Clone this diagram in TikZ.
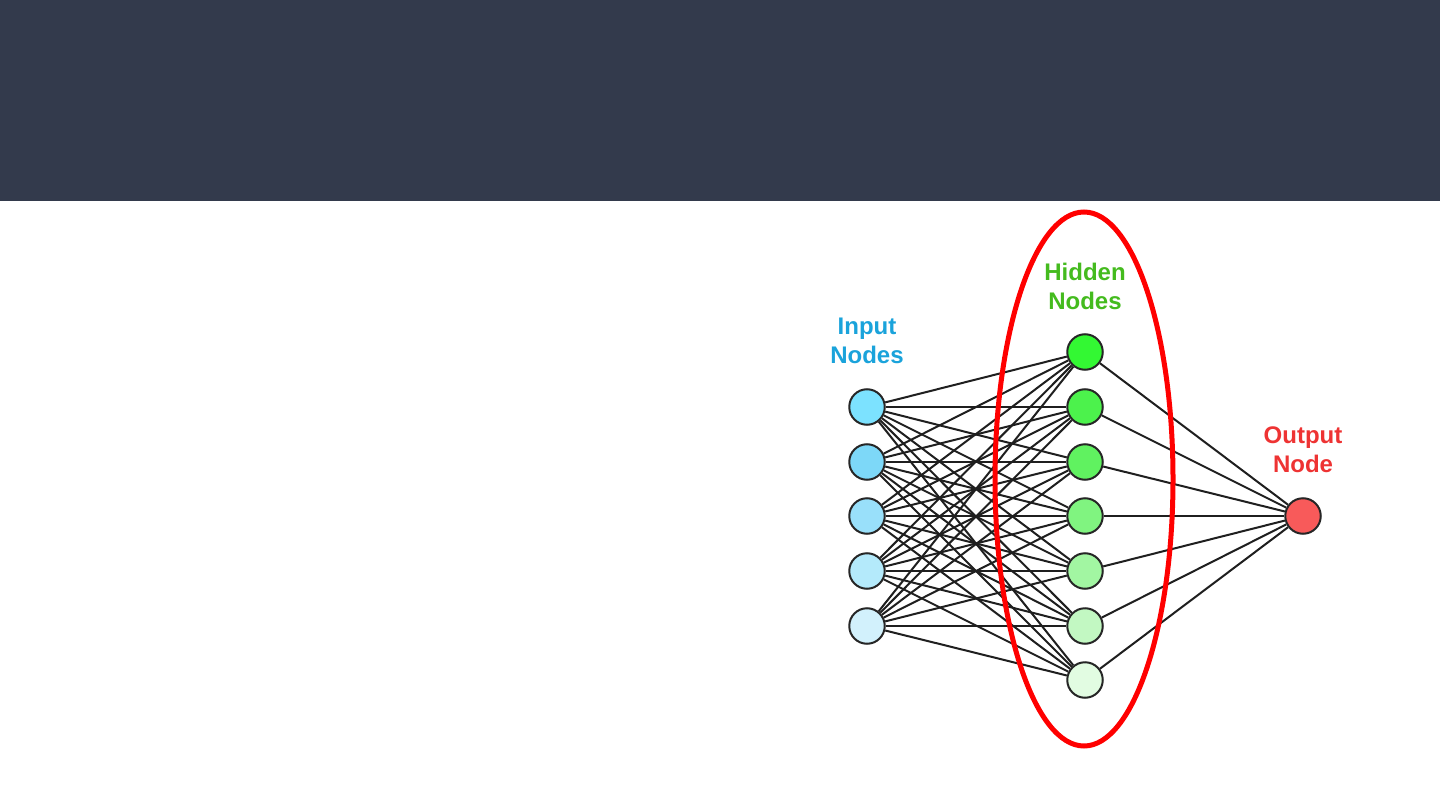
\documentclass[tikz,border=0pt]{standalone}
\usepackage{fontspec}
\setmainfont{Liberation Sans}
\usetikzlibrary{shapes.geometric}
\pgfdeclarelayer{back}
\pgfdeclarelayer{edges}
\pgfsetlayers{back,edges,main}
\begin{document}
\begin{tikzpicture}[x=1pt,y=-1pt,
  neuron/.style={circle,draw=black!85,line width=2pt,minimum size=35.5pt,inner sep=0pt},
  edge/.style={draw=black!88,line width=2pt},
  lbl/.style={align=center,font=\bfseries\fontsize{24}{29}\selectfont},
]
\definecolor{hdr}{HTML}{333A4C}
\definecolor{inblue}{HTML}{1AA3DB}
\definecolor{hidgreen}{HTML}{44BB1E}
\definecolor{outred}{HTML}{EE3333}
\definecolor{ia}{HTML}{7CE2FF}
\definecolor{ib}{HTML}{7DD8F8}
\definecolor{ic}{HTML}{99E0FA}
\definecolor{id}{HTML}{B4EAFB}
\definecolor{ie}{HTML}{D2F1FC}
\definecolor{ha}{HTML}{33F833}
\definecolor{hb}{HTML}{4CF24C}
\definecolor{hc}{HTML}{60F260}
\definecolor{hd}{HTML}{80F480}
\definecolor{he}{HTML}{A2F6A2}
\definecolor{hf}{HTML}{C2F8C2}
\definecolor{hg}{HTML}{E2FCE2}
\definecolor{oc}{HTML}{F85A5A}
\useasboundingbox (0,0) rectangle (1440,810);
\begin{pgfonlayer}{back}
\fill[white] (0,0) rectangle (1440,810);
\fill[hdr] (0,0) rectangle (1440,201);
\end{pgfonlayer}
% nodes
\foreach \n/\y/\c in {1/407/ia,2/462/ib,3/516/ic,4/571/id,5/626/ie}
  \node[neuron,fill=\c] (i\n) at (867,\y) {};
\foreach \n/\y/\c in {1/352/ha,2/407/hb,3/462/hc,4/516/hd,5/571/he,6/626/hf,7/680/hg}
  \node[neuron,fill=\c] (h\n) at (1085,\y) {};
\node[neuron,fill=oc] (o) at (1303,516) {};
% edges
\begin{pgfonlayer}{edges}
\foreach \a in {1,...,5}
  \foreach \b in {1,...,7}
    \draw[edge] (i\a) -- (h\b);
\foreach \b in {1,...,7}
  \draw[edge] (h\b) -- (o);
% ellipse over the edges
\node[draw=red,line width=5pt,ellipse,minimum width=178pt,minimum height=534pt,inner sep=0pt] (ell) at (1084,479) {};
\end{pgfonlayer}
% labels
\node[lbl,text=inblue] (li) at (867,341) {Input\\Nodes};
\node[lbl,text=hidgreen] (lh) at (1085,286) {Hidden\\Nodes};
\node[lbl,text=outred] (lo) at (1303,450) {Output\\Node};
\end{tikzpicture}
\end{document}
